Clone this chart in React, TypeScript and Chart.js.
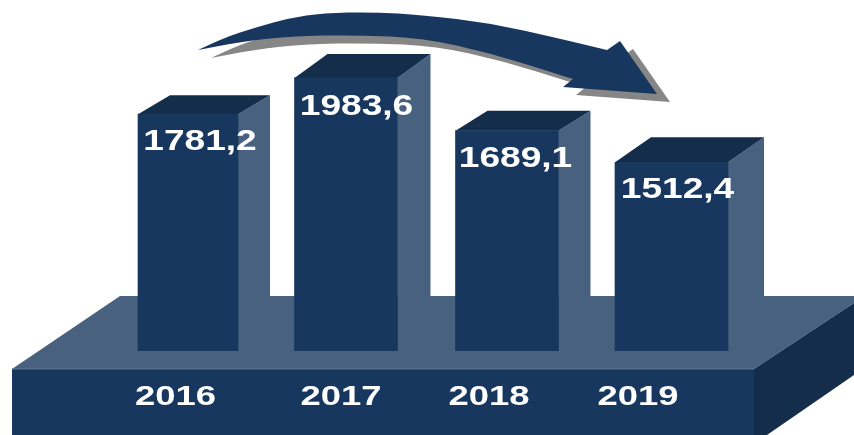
import React, { useEffect, useRef } from "react";
import { Chart, registerables } from "chart.js";

Chart.register(...registerables);

const categories = ["2016", "2017", "2018", "2019"];
const values = [1781.2, 1983.6, 1689.1, 1512.4];
const valueLabels = ["1781,2", "1983,6", "1689,1", "1512,4"];

const FRONT = "#18375f";
const TOP = "#142d4b";
const SIDE = "#47617f";
const EDGE = "#5f7693";
const SHADOW = "#868686";
const FONT = '"Liberation Sans", Arial, sans-serif';

const barWidths = [100, 103, 103, 113];
const barShifts = [1.5, -1.5, -1.5, 2];
const depthX = [32, 33, 32, 36];
const depthY = [19, 24, 20, 25];
const valueLabelX = [200, 356.5, 515.5, 677.5];
const valueLabelY = [150, 115, 167, 198];
const yearLabelX = [175.5, 341, 489, 638];

const arrowUpper = [[198, 50], [223, 38], [257, 27], [290, 18], [323, 13], [373, 12], [423, 15], [490, 23], [557, 38], [607, 50]];
const arrowHead = [[620, 41], [657, 94], [563, 87], [573, 79]];
const arrowLower = [[557, 74], [490, 53], [423, 38], [357, 35], [290, 36], [240, 42], [198, 50]];

function poly(ctx: CanvasRenderingContext2D, pts: number[][], fill: string) {
  ctx.beginPath();
  pts.forEach((p, i) => (i ? ctx.lineTo(p[0], p[1]) : ctx.moveTo(p[0], p[1])));
  ctx.closePath();
  ctx.fillStyle = fill;
  ctx.fill();
}

function smoothTo(ctx: CanvasRenderingContext2D, pts: number[][]) {
  for (let i = 1; i < pts.length - 1; i++) {
    const mx = (pts[i][0] + pts[i + 1][0]) / 2;
    const my = (pts[i][1] + pts[i + 1][1]) / 2;
    ctx.quadraticCurveTo(pts[i][0], pts[i][1], mx, my);
  }
  const last = pts[pts.length - 1];
  ctx.lineTo(last[0], last[1]);
}

function arrow(ctx: CanvasRenderingContext2D, ox: number, oy: number, fill: string) {
  ctx.save();
  ctx.translate(ox, oy);
  ctx.beginPath();
  ctx.moveTo(arrowUpper[0][0], arrowUpper[0][1]);
  smoothTo(ctx, arrowUpper);
  arrowHead.forEach((p) => ctx.lineTo(p[0], p[1]));
  smoothTo(ctx, [arrowHead[3], ...arrowLower]);
  ctx.closePath();
  ctx.fillStyle = fill;
  ctx.fill();
  ctx.restore();
}

function stretchedText(
  ctx: CanvasRenderingContext2D,
  text: string,
  cx: number,
  baseline: number,
  size: number,
  stretch: number
) {
  ctx.save();
  ctx.translate(cx, baseline);
  ctx.scale(stretch, 1);
  ctx.font = `bold ${size}px ${FONT}`;
  ctx.fillStyle = "#ffffff";
  ctx.textAlign = "center";
  ctx.textBaseline = "alphabetic";
  ctx.fillText(text, 0, 0);
  ctx.restore();
}

const scene = {
  id: "scene",
  afterDatasetsUpdate(chart: any) {
    chart.getDatasetMeta(0).data.forEach((bar: any, i: number) => {
      bar.x += barShifts[i];
      bar.width = barWidths[i];
    });
  },
  beforeDatasetsDraw(chart: any) {
    const ctx: CanvasRenderingContext2D = chart.ctx;
    ctx.save();
    // platform
    poly(ctx, [[12, 369], [120, 296], [854, 296], [854, 303], [754, 369]], SIDE);
    poly(ctx, [[12, 369], [754, 369], [754, 435], [12, 435]], FRONT);
    poly(ctx, [[754, 369], [854, 303], [854, 375], [767, 435], [754, 435]], TOP);
    ctx.fillStyle = EDGE;
    ctx.fillRect(12, 368.5, 742, 1);
    // arrow
    arrow(ctx, 13, 8, SHADOW);
    arrow(ctx, 0, 0, FRONT);
    // bar top and side faces
    chart.getDatasetMeta(0).data.forEach((bar: any, i: number) => {
      const l = bar.x - bar.width / 2;
      const r = bar.x + bar.width / 2;
      const t = bar.y;
      const dx = depthX[i];
      const dy = depthY[i];
      poly(ctx, [[r, t], [r + dx, t - dy], [r + dx, 296], [r, 330]], SIDE);
      poly(ctx, [[l, t], [l + dx, t - dy], [r + dx, t - dy], [r, t]], TOP);
    });
    ctx.restore();
  },
  afterDatasetsDraw(chart: any) {
    const ctx: CanvasRenderingContext2D = chart.ctx;
    valueLabels.forEach((s, i) => stretchedText(ctx, s, valueLabelX[i], valueLabelY[i], 29, 1.28));
    categories.forEach((s, i) => stretchedText(ctx, s, yearLabelX[i], 405, 27, 1.35));
  },
};

export default function App() {
  const ref = useRef<HTMLCanvasElement>(null);
  useEffect(() => {
    const chart = new Chart(ref.current!, {
      type: "bar",
      data: {
        labels: categories,
        datasets: [{ data: values, backgroundColor: FRONT, borderWidth: 0, barPercentage: 1, categoryPercentage: 1 }],
      },
      options: {
        responsive: false,
        animation: false,
        layout: { padding: { left: 106, right: 104, top: 0, bottom: 84 } },
        plugins: { legend: { display: false }, tooltip: { enabled: false } },
        scales: {
          x: { display: false },
          y: { display: false, min: 458, max: 2419 },
        },
      },
      plugins: [scene],
    });
    return () => chart.destroy();
  }, []);
  return (
    <div style={{ position: "fixed", left: 0, top: 0, width: 854, height: 435, background: "#fff" }}>
      <canvas ref={ref} width={854} height={435} style={{ display: "block" }} />
    </div>
  );
}
